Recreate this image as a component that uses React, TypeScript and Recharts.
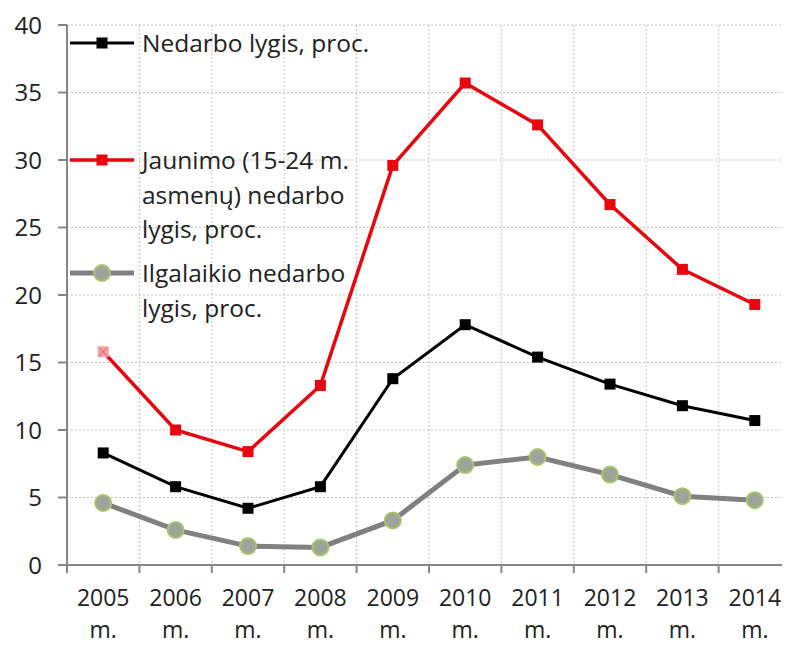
import React from 'react';
import { LineChart, Line, XAxis, YAxis, CartesianGrid, Legend } from 'recharts';

const years = ['2005', '2006', '2007', '2008', '2009', '2010', '2011', '2012', '2013', '2014'];
const unemployment = [8.3, 5.8, 4.2, 5.8, 13.8, 17.8, 15.4, 13.4, 11.8, 10.7];
const youthUnemployment = [15.8, 10.0, 8.4, 13.3, 29.6, 35.7, 32.6, 26.7, 21.9, 19.3];
const longTermUnemployment = [4.6, 2.6, 1.4, 1.3, 3.3, 7.4, 8.0, 6.7, 5.1, 4.8];
const yTicks = [0, 5, 10, 15, 20, 25, 30, 35, 40];

const seriesNames = {
  total: 'Nedarbo lygis, proc.',
  youth: 'Jaunimo (15-24 m. asmenų) nedarbo lygis, proc.',
  longTerm: 'Ilgalaikio nedarbo lygis, proc.',
};

const data = years.map((year, i) => ({
  year,
  total: unemployment[i],
  youth: youthUnemployment[i],
  longTerm: longTermUnemployment[i],
}));

const CHART_W = 800;
const CHART_H = 646;
const MARGIN = { top: 25, right: 9, bottom: 0, left: 0 };
const Y_AXIS_W = 67;
const X_AXIS_H = 81;
const PLOT_W = CHART_W - MARGIN.left - MARGIN.right - Y_AXIS_W;
const BAND = PLOT_W / years.length;

const FONT = '"Open Sans", Lato, sans-serif';
const TEXT = '#222';
const AXIS = '#868686';
const GRID = '#c4c4c4';

const BLACK = '#000000';
const RED = '#e8050d';
const GRAY = '#808080';
const DOT_FILL = '#9ea39c';
const DOT_RIM = '#a9c46a';

const squareDot = (color: string) => (props: any) => {
  const { cx, cy, index } = props;
  if (cx == null || cy == null) return <g key={index} />;
  return <rect key={index} x={cx - 5.5} y={cy - 5.5} width={11} height={11} fill={color} />;
};

// the first youth point is drawn pale with a cross hatch
const youthDot = (props: any) => {
  const { cx, cy, index } = props;
  if (cx == null || cy == null) return <g key={index} />;
  if (index === 0) {
    return (
      <g key={index}>
        <rect x={cx - 5.5} y={cy - 5.5} width={11} height={11} fill="#f6a3a6" />
        <path d={`M${cx - 4},${cy - 4}L${cx + 4},${cy + 4}M${cx + 4},${cy - 4}L${cx - 4},${cy + 4}`} stroke="#e8505a" strokeWidth={1} />
      </g>
    );
  }
  return <rect key={index} x={cx - 5.5} y={cy - 5.5} width={11} height={11} fill={RED} />;
};

const circleDot = (props: any) => {
  const { cx, cy, index } = props;
  if (cx == null || cy == null) return <g key={index} />;
  return <circle key={index} cx={cx} cy={cy} r={8} fill={DOT_FILL} stroke={DOT_RIM} strokeWidth={2} />;
};

const XTick = (props: any) => {
  const { x, y, payload, index } = props;
  const half = BAND / 2;
  return (
    <g>
      <line x1={x - half} x2={x - half} y1={y} y2={y + 8} stroke={AXIS} strokeWidth={2} />
      {index === years.length - 1 && (
        <line x1={x + half} x2={x + half} y1={y} y2={y + 8} stroke={AXIS} strokeWidth={2} />
      )}
      <text x={x} y={y + 41} textAnchor="middle" fill={TEXT} fontSize={23} fontFamily={FONT}>
        {payload.value}
      </text>
      <text x={x} y={y + 73} textAnchor="middle" fill={TEXT} fontSize={23} fontFamily={FONT}>
        m.
      </text>
    </g>
  );
};

// legend rows sit inside the plot, each entry at its own offset
const legendOrder = ['total', 'youth', 'longTerm'];
const legendTops = [26, 143, 256];

const LegendIcon = ({ dataKey, color }: { dataKey: string; color: string }) => (
  <svg width={64} height={20} style={{ flex: 'none' }}>
    <line x1={0} x2={64} y1={10} y2={10} stroke={color} strokeWidth={dataKey === 'longTerm' ? 5 : dataKey === 'youth' ? 3.5 : 3} />
    {dataKey === 'longTerm' ? (
      <circle cx={32} cy={10} r={8} fill={DOT_FILL} stroke={DOT_RIM} strokeWidth={2} />
    ) : (
      <rect x={26.5} y={4.5} width={11} height={11} fill={color} />
    )}
  </svg>
);

const renderLegend = (props: any) => {
  const { payload = [] } = props;
  const entries = [...payload].sort(
    (a: any, b: any) => legendOrder.indexOf(a.dataKey) - legendOrder.indexOf(b.dataKey),
  );
  return (
    <div style={{ position: 'relative', width: 320, height: 330 }}>
      {entries.map((entry: any, i: number) => (
        <div
          key={entry.value}
          style={{
            position: 'absolute',
            left: 3,
            top: legendTops[i],
            display: 'flex',
            alignItems: 'flex-start',
          }}
        >
          <div style={{ height: 34, display: 'flex', alignItems: 'center' }}>
            <LegendIcon dataKey={entry.dataKey} color={entry.color} />
          </div>
          <div
            style={{
              marginLeft: 8,
              width: 245,
              fontFamily: FONT,
              fontSize: 24.5,
              lineHeight: '34.5px',
              color: TEXT,
            }}
          >
            {entry.value}
          </div>
        </div>
      ))}
    </div>
  );
};

export default function App() {
  return (
    <div
      style={{
        margin: -8,
        width: 790,
        height: 646,
        overflow: 'hidden',
        position: 'relative',
        background: '#fff',
      }}
    >
      <LineChart width={CHART_W} height={CHART_H} data={data} margin={MARGIN}>
        <CartesianGrid
          stroke={GRID}
          strokeDasharray="2 2"
          verticalCoordinatesGenerator={({ offset }: any) =>
            years.map((_, i) => offset.left + ((i + 1) * offset.width) / years.length)
          }
        />
        <XAxis
          dataKey="year"
          scale="band"
          height={X_AXIS_H}
          axisLine={{ stroke: AXIS, strokeWidth: 2 }}
          tickLine={false}
          tickSize={0}
          tickMargin={0}
          interval={0}
          tick={XTick}
        />
        <YAxis
          width={Y_AXIS_W}
          domain={[0, 40]}
          ticks={yTicks}
          interval={0}
          axisLine={{ stroke: AXIS, strokeWidth: 2 }}
          tickLine={{ stroke: AXIS, strokeWidth: 2 }}
          tickSize={9}
          tickMargin={16}
          tick={{ fill: TEXT, fontSize: 24, fontFamily: FONT }}
        />
        <Legend
          layout="vertical"
          align="center"
          verticalAlign="middle"
          content={renderLegend}
          wrapperStyle={{ left: 67, top: 0, width: 320 }}
        />
        <Line
          dataKey="total"
          name={seriesNames.total}
          stroke={BLACK}
          strokeWidth={3}
          dot={squareDot(BLACK)}
          activeDot={false}
          isAnimationActive={false}
        />
        <Line
          dataKey="youth"
          name={seriesNames.youth}
          stroke={RED}
          strokeWidth={3.5}
          dot={youthDot}
          activeDot={false}
          isAnimationActive={false}
        />
        <Line
          dataKey="longTerm"
          name={seriesNames.longTerm}
          stroke={GRAY}
          strokeWidth={5}
          dot={circleDot}
          activeDot={false}
          isAnimationActive={false}
        />
      </LineChart>
    </div>
  );
}
